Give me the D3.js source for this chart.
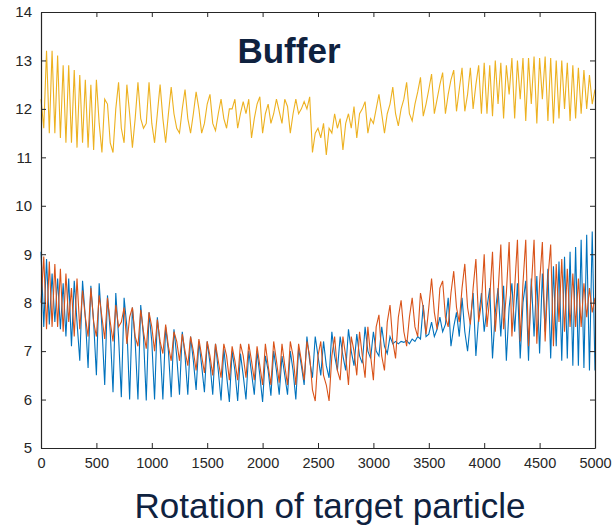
<!DOCTYPE html>
<html>
    <head>
        <meta charset="utf-8">
        <script src="https://d3js.org/d3.v7.min.js"></script>
        <style>
            body { margin: 0; background: #fff; }
            .tick text { font-family: "Liberation Sans", Arial, sans-serif; font-size: 15px; fill: #262626; }
            .xaxis .tick text { font-size: 14.5px; }
            .domain, .tick line { stroke: #262626; }
        </style>
    </head>
    <body>
        <div id="my_dataviz"></div>
        <script>

            // samples are taken every 25 rotations, from 0 to 5000
            var step = 25;

            // yellow series (top)
            var yellowValues = [
                12.2, 11.6, 13.2, 11.5, 13.2, 11.5, 13.1, 11.4, 12.9, 11.3,
                12.9, 11.3, 12.8, 11.2, 12.7, 11.3, 12.6, 11.2, 12.5, 11.15,
                12.6, 11.7, 11.1, 12.2, 12.1, 11.3, 11.1, 12.0, 12.55, 11.6,
                11.3, 12.5, 11.9, 11.2, 11.8, 12.55, 11.8, 11.6, 11.7, 12.55,
                11.7, 11.3, 11.9, 12.5, 11.8, 11.3, 11.9, 12.45, 11.9, 11.6,
                11.5, 12.0, 12.4, 11.8, 11.5, 11.9, 12.35, 12.0, 11.5, 11.7,
                12.1, 12.3, 11.7, 11.55, 11.9, 12.2, 11.8, 11.6, 12.0, 12.0,
                12.2, 11.6, 11.9, 12.15, 11.9, 12.2, 11.4, 11.8, 12.1, 12.25,
                11.5, 11.9, 12.1, 11.7, 11.9, 12.2, 11.95, 11.7, 12.2, 12.05,
                11.5, 11.9, 12.2, 11.9, 12.0, 12.15, 12.0, 12.25, 11.1, 11.5,
                11.6, 11.4, 11.7, 11.05, 11.6, 11.5, 11.9, 11.6, 11.8, 11.15,
                11.7, 11.9, 11.6, 12.05, 11.4, 11.9, 12.0, 12.15, 11.5, 11.8,
                11.7, 12.0, 12.3, 11.9, 11.5, 11.9, 12.1, 12.45, 11.9, 11.65,
                12.0, 12.2, 12.55, 11.9, 11.75, 12.1, 12.35, 12.65, 11.85, 12.1,
                12.4, 12.72, 11.9, 12.2, 12.5, 12.75, 11.9, 12.3, 12.6, 12.8,
                11.95, 12.4, 12.85, 11.95, 12.3, 12.85, 12.0, 12.5, 12.9, 11.9,
                12.95, 11.9, 12.9, 11.85, 13.0, 12.1, 12.95, 11.8, 12.9, 12.3,
                13.05, 11.8, 13.0, 12.2, 13.05, 11.75, 13.05, 12.1, 13.08, 11.7,
                13.05, 12.2, 13.08, 11.75, 13.05, 11.7, 13.0, 11.8, 13.0, 12.0,
                12.95, 11.75, 12.9, 11.8, 12.85, 11.9, 12.8, 12.0, 12.7, 12.1,
                12.4
            ];

            // blue series
            var blueValues = [
                9.05, 7.5, 8.9, 7.55, 8.6, 7.6, 8.5, 7.45, 8.4, 7.3,
                8.5, 7.1, 8.45, 7.6, 6.8, 8.45, 7.7, 6.65, 8.35, 7.6,
                6.5, 8.4, 7.5, 6.3, 8.15, 7.4, 6.15, 8.2, 7.3, 6.05,
                8.1, 7.5, 6.0, 7.9, 7.2, 6.0, 7.95, 7.3, 5.98, 7.8,
                7.2, 6.0, 7.7, 7.1, 6.0, 7.5, 7.0, 6.05, 7.45, 6.9,
                6.1, 7.4, 6.9, 6.1, 7.3, 6.8, 6.2, 7.2, 6.7, 6.15,
                7.2, 6.75, 6.1, 7.15, 6.6, 5.98, 7.05, 6.5, 5.95, 7.0,
                6.6, 5.97, 6.95, 6.5, 6.0, 7.0, 6.55, 6.1, 7.0, 6.5,
                5.95, 6.9, 6.6, 6.08, 7.0, 6.6, 6.1, 6.9, 6.5, 6.1,
                7.0, 6.6, 6.0, 7.05, 6.7, 6.3, 7.3, 6.8, 6.45, 7.3,
                6.9, 6.5, 7.2, 6.7, 6.45, 7.4, 6.9, 6.6, 7.3, 6.9,
                6.6, 7.45, 7.0, 6.7, 7.35, 6.9, 6.75, 7.5, 7.0, 6.85,
                7.4, 7.0, 6.9, 7.5, 7.1, 6.95, 7.3, 7.15, 7.2, 7.15,
                7.2, 7.18, 7.22, 7.15, 7.25, 7.2, 7.3, 7.25, 7.95, 7.3,
                7.35, 7.6, 7.3, 7.45, 7.7, 7.4, 7.55, 8.1, 7.1, 7.5,
                7.8, 7.3, 8.1, 7.4, 7.0, 7.6, 8.2, 6.9, 7.7, 8.2,
                7.4, 7.9, 8.3, 6.85, 7.8, 8.3, 7.3, 8.35, 6.8, 7.9,
                8.4, 7.4, 8.4, 6.85, 8.0, 8.45, 6.8, 8.5, 7.3, 8.55,
                6.95, 8.6, 7.4, 8.7, 6.85, 8.75, 7.1, 8.85, 6.8, 8.95,
                6.85, 9.05, 6.7, 9.15, 6.7, 9.3, 6.65, 9.4, 6.6, 9.47,
                6.6
            ];

            // orange series
            var orangeValues = [
                8.0, 8.95, 7.45, 8.85, 7.5, 8.8, 7.5, 8.7, 7.4, 8.6,
                7.6, 8.3, 7.3, 8.5, 7.45, 8.25, 7.7, 7.3, 8.3, 7.6,
                7.3, 8.15, 7.7, 7.25, 8.1, 7.6, 7.2, 7.95, 7.5, 7.6,
                7.9, 7.15, 7.7, 7.9, 7.3, 7.1, 7.85, 7.4, 7.05, 7.8,
                7.5, 7.0, 7.65, 7.2, 6.95, 7.55, 7.1, 6.8, 7.4, 7.2,
                6.8, 7.35, 7.0, 6.7, 7.3, 7.0, 6.6, 7.25, 6.9, 6.55,
                7.2, 6.9, 6.5, 7.15, 6.8, 6.45, 7.15, 6.9, 6.4, 7.1,
                6.8, 6.4, 7.15, 6.9, 6.45, 7.15, 6.8, 6.4, 7.1, 6.7,
                6.3, 7.15, 6.7, 6.3, 7.2, 6.8, 6.35, 7.15, 6.7, 6.3,
                7.2, 6.9, 6.3, 7.15, 6.8, 6.4, 7.2, 6.9, 6.2, 5.97,
                6.9, 7.2, 6.5, 6.3, 5.97, 6.9, 7.3, 6.6, 6.4, 7.3,
                6.9, 6.3, 7.3, 7.0, 6.5, 7.4, 6.9, 6.45, 7.5, 6.9,
                6.4, 7.5, 7.75, 6.9, 6.6, 7.6, 7.95, 7.2, 6.85, 7.7,
                8.05, 7.4, 7.1, 7.7, 8.1, 7.5, 7.3, 8.2, 7.9, 7.35,
                7.9, 8.5, 7.8, 7.45, 8.3, 8.45, 7.7, 7.5, 8.2, 8.65,
                7.9, 7.6, 8.3, 8.8, 7.9, 7.55, 8.3, 8.9, 7.6, 8.0,
                9.0, 7.5, 8.1, 9.05, 7.4, 8.2, 9.2, 7.45, 8.2, 9.25,
                7.3, 8.3, 9.3, 7.2, 8.4, 9.3, 7.1, 8.3, 9.3, 7.15,
                8.4, 9.25, 7.2, 8.5, 9.2, 7.1, 8.8, 7.6, 8.9, 7.4,
                8.7, 7.5, 8.6, 7.5, 8.5, 7.5, 8.4, 7.7, 8.3, 7.8,
                8.1
            ];

            var xTicks = [0, 500, 1000, 1500, 2000, 2500, 3000, 3500, 4000, 4500, 5000];
            var yTicks = [5, 6, 7, 8, 9, 10, 11, 12, 13, 14];

            var width = 612,
                height = 527;
            var margin = {left: 41, right: 17, top: 12, bottom: 79};

            var svg = d3.select("#my_dataviz")
                .append("svg")
                    .attr("width", width)
                    .attr("height", height);

            var x = d3.scaleLinear()
                .domain([0, 5000])
                .range([margin.left, width - margin.right]);
            var y = d3.scaleLinear()
                .domain([5, 14])
                .range([height - margin.bottom, margin.top]);

            var series = [
                {name: "blue", color: "#0072BD", values: blueValues},
                {name: "orange", color: "#D95319", values: orangeValues},
                {name: "yellow", color: "#EDB120", values: yellowValues}
            ];

            var line = d3.line()
                .x(function(d, i) { return x(i * step) })
                .y(function(d) { return y(d) });

            svg.selectAll("mySeries")
                .data(series)
                .join("path")
                    .attr("d", function(d) { return line(d.values) })
                    .attr("fill", "none")
                    .attr("stroke", function(d) { return d.color })
                    .attr("stroke-width", 1.1);

            // axes, MATLAB style: ticks point inward, box all round
            svg.append("g")
                .attr("class", "xaxis")
                .attr("transform", `translate(0, ${height - margin.bottom})`)
                .call(d3.axisBottom(x).tickValues(xTicks).tickFormat(d3.format("d"))
                    .tickSizeInner(-5).tickSizeOuter(0).tickPadding(10));
            svg.append("g")
                .attr("transform", `translate(0, ${margin.top})`)
                .call(d3.axisTop(x).tickValues(xTicks).tickSizeInner(-5).tickSizeOuter(0).tickFormat(""));
            svg.append("g")
                .attr("transform", `translate(${margin.left}, 0)`)
                .call(d3.axisLeft(y).tickValues(yTicks).tickFormat(d3.format("d"))
                    .tickSizeInner(-5).tickSizeOuter(0).tickPadding(9));
            svg.append("g")
                .attr("transform", `translate(${width - margin.right}, 0)`)
                .call(d3.axisRight(y).tickValues(yTicks).tickSizeInner(-5).tickSizeOuter(0).tickFormat(""));

            svg.selectAll(".domain").attr("stroke-width", 1.2);

            // title inside the plot and x label
            svg.append("text")
                .attr("x", 289)
                .attr("y", 63)
                .attr("text-anchor", "middle")
                .style("font-family", "Liberation Sans, Arial, sans-serif")
                .style("font-weight", "bold")
                .style("font-size", "35px")
                .style("fill", "#0f223f")
                .text("Buffer");

            svg.append("text")
                .attr("x", 330)
                .attr("y", 518)
                .attr("text-anchor", "middle")
                .style("font-family", "Liberation Sans, Arial, sans-serif")
                .style("font-size", "35px")
                .style("fill", "#0f223f")
                .text("Rotation of target particle");
        </script>
    </body>
</html>
